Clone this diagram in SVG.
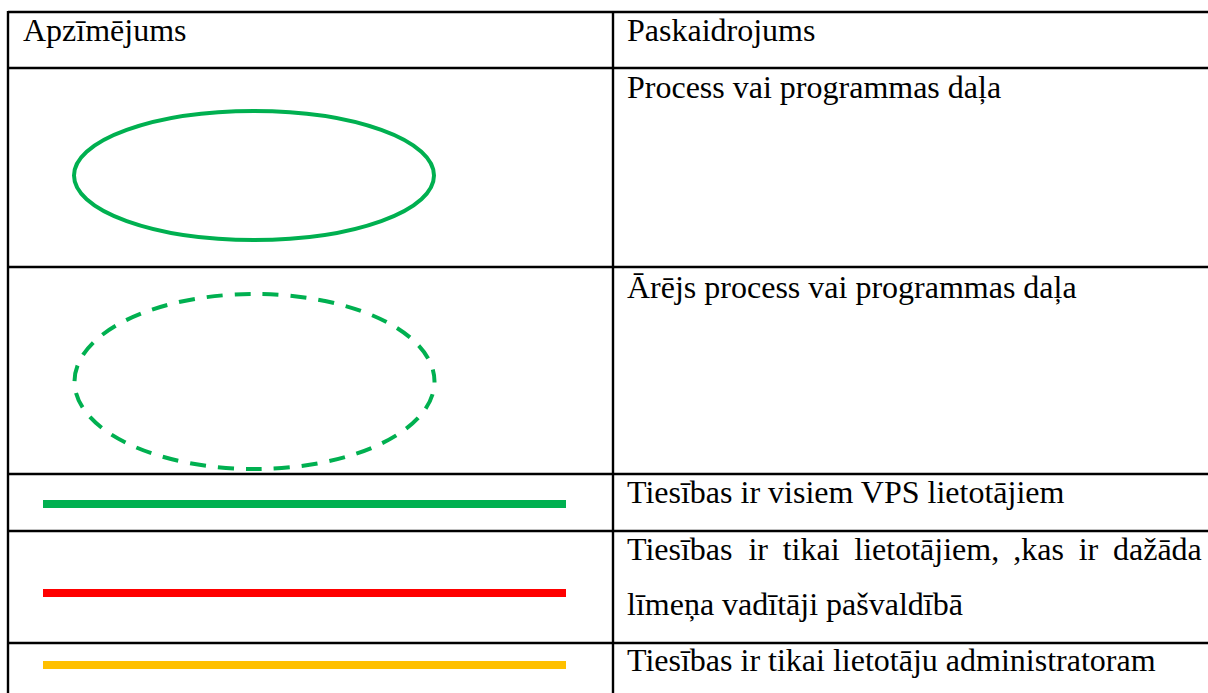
<svg xmlns="http://www.w3.org/2000/svg" width="1208" height="693" viewBox="0 0 1208 693">
  <style>
    .grid { stroke: #000; stroke-width: 2.4; fill: none; }
    .t { font-family: "Liberation Serif", "Times New Roman", serif; font-size: 32px; fill: #000; }
    .proc { fill: none; stroke: #00B050; stroke-width: 4; }
    .ext { fill: none; stroke: #00B050; stroke-width: 4; stroke-dasharray: 16 12; stroke-dashoffset: 15; }
    .bar { stroke-width: 8; }
  </style>
  <rect width="1208" height="693" fill="#fff"/>
  <g id="grid" class="grid">
    <line x1="8" y1="12" x2="1208" y2="12"/>
    <line x1="8" y1="68" x2="1208" y2="68"/>
    <line x1="8" y1="267" x2="1208" y2="267"/>
    <line x1="8" y1="474" x2="1208" y2="474"/>
    <line x1="8" y1="531" x2="1208" y2="531"/>
    <line x1="8" y1="643" x2="1208" y2="643"/>
    <line x1="8" y1="11" x2="8" y2="693"/>
    <line x1="613" y1="11" x2="613" y2="693"/>
  </g>
  <g id="header">
    <text class="t" x="23" y="41">Apzīmējums</text>
    <text class="t" x="627" y="41">Paskaidrojums</text>
  </g>
  <g id="row-process">
    <ellipse class="proc" cx="254" cy="175.5" rx="180" ry="64.5"/>
    <text class="t" x="627" y="98">Process vai programmas daļa</text>
  </g>
  <g id="row-external">
    <ellipse class="ext" cx="254.5" cy="381.5" rx="180" ry="87.5"/>
    <text class="t" x="627" y="298">Ārējs process vai programmas daļa</text>
  </g>
  <g id="row-green">
    <line class="bar" x1="43" y1="504" x2="566" y2="504" stroke="#00B050"/>
    <text class="t" x="627" y="503">Tiesības ir visiem VPS lietotājiem</text>
  </g>
  <g id="row-red">
    <line class="bar" x1="43" y1="593" x2="566" y2="593" stroke="#FF0000"/>
    <text class="t" y="560"><tspan x="627">Tiesības</tspan><tspan x="748.4">ir</tspan><tspan x="782.7">tikai</tspan><tspan x="854.3">lietotājiem,</tspan><tspan x="1013.3">,kas</tspan><tspan x="1078.7">ir</tspan><tspan x="1113">dažāda</tspan></text>
    <text class="t" x="627" y="615">līmeņa vadītāji pašvaldībā</text>
  </g>
  <g id="row-yellow">
    <line class="bar" x1="43" y1="665" x2="566" y2="665" stroke="#FFC000"/>
    <text class="t" x="627" y="671">Tiesības ir tikai lietotāju administratoram</text>
  </g>
</svg>
